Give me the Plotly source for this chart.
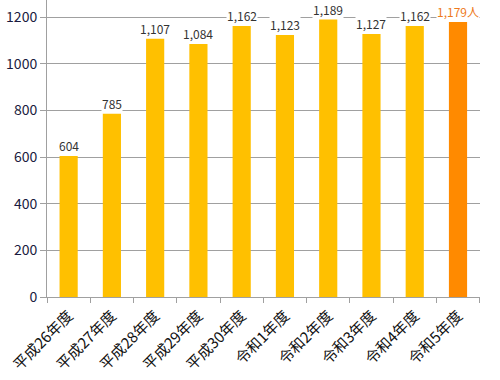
import plotly.graph_objects as go

categories = ["平成26年度", "平成27年度", "平成28年度", "平成29年度", "平成30年度",
              "令和1年度", "令和2年度", "令和3年度", "令和4年度", "令和5年度"]
values = [604, 785, 1107, 1084, 1162, 1123, 1189, 1127, 1162, 1179]
labels = ["604", "785", "1,107", "1,084", "1,162", "1,123", "1,189", "1,127", "1,162", "1,179人"]
y_ticks = [0, 200, 400, 600, 800, 1000, 1200]

base_color = "#FFC000"
last_color = "#FF8A00"
colors = [base_color] * (len(values) - 1) + [last_color]
label_colors = ["#333333"] * (len(values) - 1) + ["#EE7A1C"]

fig = go.Figure()
fig.add_trace(go.Bar(x=categories, y=values, marker=dict(color=colors, line=dict(width=0)),
                     hoverinfo="skip"))

for c, v, t, col in zip(categories, values, labels, label_colors):
    fig.add_annotation(x=c, y=v, text=t, showarrow=False, yanchor="bottom", yshift=1,
                       bgcolor="white", borderpad=0,
                       font=dict(size=12, color=col, family="Noto Sans CJK JP"))

fig.update_layout(
    width=500, height=380,
    margin=dict(l=47, r=20, t=0, b=83),
    plot_bgcolor="white", paper_bgcolor="white",
    bargap=0.58, showlegend=False,
    font=dict(family="Noto Sans CJK JP", color="#222222"),
)
fig.update_xaxes(
    type="category", tickangle=-45, tickson="boundaries", automargin=False,
    ticks="outside", ticklen=5, tickcolor="#A0A0A0", ticklabelstandoff=3,
    showline=True, linecolor="#A0A0A0", linewidth=1,
    tickfont=dict(size=15, family="Noto Sans CJK JP", color="#111111"),
)
fig.update_yaxes(
    range=[0, 1273], tickvals=y_ticks, ticktext=[str(t) for t in y_ticks],
    automargin=False,
    ticks="outside", ticklen=6, tickcolor="#A0A0A0",
    showline=True, linecolor="#A0A0A0", linewidth=1,
    showgrid=True, gridcolor="#A0A0A0", gridwidth=1, zeroline=False,
    tickfont=dict(size=14, family="Noto Sans CJK JP", color="#1A1A40"),
)

fig.write_html("out.html", config={"displayModeBar": False},
               post_script="document.body.style.margin='0';document.body.style.overflow='hidden';")
